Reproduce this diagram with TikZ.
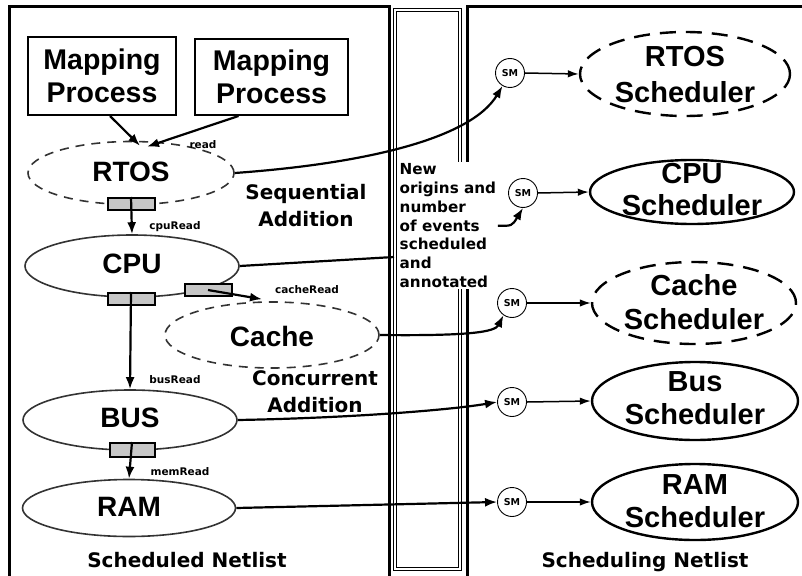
\documentclass[tikz,border=0pt]{standalone}
\usepackage{fontspec}
\setmainfont{Liberation Sans}
\newfontfamily\dvb{DejaVu Sans}
\usetikzlibrary{arrows.meta,shapes.geometric,calc}
\begin{document}
\begin{tikzpicture}[x=1pt,y=-1pt,
  big/.style={font=\fontsize{28}{33}\selectfont\bfseries, align=center, inner sep=0pt},
  small/.style={font=\dvb\bfseries\fontsize{10.5}{11}\selectfont, inner sep=0pt},
  mid/.style={font=\dvb\bfseries\fontsize{20}{27}\selectfont, align=center, inner sep=0pt},
  lell/.style={ellipse, draw=black!80, line width=1.6pt, inner sep=0pt},
  rell/.style={ellipse, draw, line width=2.4pt, inner sep=0pt},
  ldash/.style={dash pattern=on 9pt off 7pt},
  rdash/.style={dash pattern=on 16pt off 10pt},
  mbox/.style={draw, line width=2pt, align=center, inner sep=0pt, font=\fontsize{28.5}{33}\selectfont\bfseries},
  port/.style={draw, line width=2pt, fill=gray!45, minimum width=47pt, minimum height=12pt, inner sep=0pt},
  sm/.style={circle, draw, line width=0.9pt, minimum size=29pt, inner sep=0pt, font=\dvb\bfseries\fontsize{9.5}{10}\selectfont},
  arr/.style={-{Latex[length=12pt,width=9pt]}, line width=2.2pt},
  arrt/.style={-{Latex[length=11pt,width=7.5pt]}, line width=1.5pt},
  line/.style={line width=2.2pt},
  panel/.style={line width=3pt},
  midpanel/.style={draw, line width=1.6pt, double, double distance=1.6pt}
]
\useasboundingbox (0,0) rectangle (802,575);
\clip (0,0) rectangle (802,575);
% panels
\draw[panel] (9,7) rectangle (389,600);
\draw[panel] (467,7) rectangle (830,600);
\draw[midpanel] (395,10) rectangle (460,569);

% left side
\node[mbox, minimum width=148pt, minimum height=78pt] (mp1) at (102,76) {Mapping\\Process};
\node[mbox, minimum width=153pt, minimum height=76pt] (mp2) at (271.5,77) {Mapping\\Process};

\node[lell, ldash, minimum width=206pt, minimum height=63pt] (rtos) at (131,173) {};
\node[big] (rtost) at (131,172) {RTOS};
\node[lell, minimum width=214pt, minimum height=62pt] (cpu) at (132,266) {};
\node[big] (cput) at (132,264) {CPU};
\node[lell, ldash, minimum width=214pt, minimum height=66pt] (cache) at (272,335) {};
\node[big] (cachet) at (272,336) {Cache};
\node[lell, minimum width=214pt, minimum height=60pt] (bus) at (130,420) {};
\node[big] (bust) at (130,418) {BUS};
\node[lell, minimum width=213pt, minimum height=57pt] (ram) at (129,508) {};
\node[big] (ramt) at (129,507) {RAM};

\node[port] (p1) at (131,204) {};
\node[port] (p2) at (131,299) {};
\node[port] (p3) at (208,290) {};
\node[port, minimum width=45pt, minimum height=14pt] (p4) at (132,450) {};

\draw[arr] ([xshift=8pt]mp1.south) -- ([xshift=9pt,yshift=-5pt]rtos.north);
\draw[arr] ([xshift=-33pt]mp2.south) -- ([xshift=16pt,yshift=-6pt]rtos.north);
\draw[arr] (p1.north) -- (cpu.north);
\draw[arr] (p2.north) -- (bus.north);
\draw[arr] (p4.north) -- (ram.north);
\draw[arr] (p3.center) -- ([xshift=-10pt,yshift=2pt]cache.north);

\node[small] (lread) at (203,145) {read};
\node[small] (lcpu) at (175,227) {cpuRead};
\node[small] (lcache) at (307,290) {cacheRead};
\node[small] (lbus) at (175,380) {busRead};
\node[small] (lmem) at (180,472) {memRead};

\node[mid] (seq) at (306,206) {Sequential\\Addition};
\node[mid] (conc) at (315,392) {Concurrent\\Addition};
\node[mid] (snl) at (187,560) {Scheduled Netlist};
\node[mid] (sgnl) at (645,562) {Scheduling Netlist};

% right side schedulers
\node[rell, rdash, minimum width=210pt, minimum height=84pt] (rs) at (685,74) {};
\node[big, font=\fontsize{29}{36}\selectfont\bfseries] (rst) at (685,75) {RTOS\\Scheduler};
\node[rell, minimum width=204pt, minimum height=64pt] (cs) at (692,192) {};
\node[big, font=\fontsize{29}{32}\selectfont\bfseries] (cst) at (692,190) {CPU\\Scheduler};
\node[rell, rdash, minimum width=204pt, minimum height=82pt] (cas) at (694,303) {};
\node[big, font=\fontsize{29}{34}\selectfont\bfseries] (cast) at (694,302) {Cache\\Scheduler};
\node[rell, minimum width=206pt, minimum height=78pt] (bs) at (695,401) {};
\node[big, font=\fontsize{29}{33}\selectfont\bfseries] (bst) at (695,398) {Bus\\Scheduler};
\node[rell, minimum width=206pt, minimum height=76pt] (ras) at (695,502) {};
\node[big, font=\fontsize{29}{33}\selectfont\bfseries] (rast) at (695,501) {RAM\\Scheduler};

\node[sm] (sm1) at (510,73) {SM};
\node[sm] (sm2) at (523,193) {SM};
\node[sm] (sm3) at (512,303) {SM};
\node[sm] (sm4) at (512,402) {SM};
\node[sm] (sm5) at (512,502) {SM};

\draw[arrt] (sm1.east) -- (rs.west);
\draw[arrt] (sm2.east) -- (cs.west);
\draw[arrt] (sm3.east) -- (cas.west);
\draw[arrt] (sm4.east) -- (bs.west);
\draw[arrt] (sm5.east) -- (ras.west);

% connectors across
\coordinate (cpuend) at (394,257);
\draw[line] (cpu.east) -- (cpuend);
\node[anchor=north west, fill=white, inner sep=1.5pt, align=left,
      font=\dvb\bfseries\fontsize{15.2}{18.8}\selectfont] (note) at (398,162)
  {New\\origins and\\number\\of events\\scheduled\\and\\annotated};
\draw[arr] (rtos.east) .. controls (360,164) and (470,140) .. (sm1.240);
\draw[arr] (note.east) .. controls (512,226) .. (sm2.south);
\draw[arr] (cache.east) .. controls (470,336) and (495,332) .. (sm3.235);
\draw[arr] (bus.east) .. controls (350,418) and (450,410) .. (sm4.west);
\draw[arr] (ram.east) -- (sm5.west);
\end{tikzpicture}
\end{document}
